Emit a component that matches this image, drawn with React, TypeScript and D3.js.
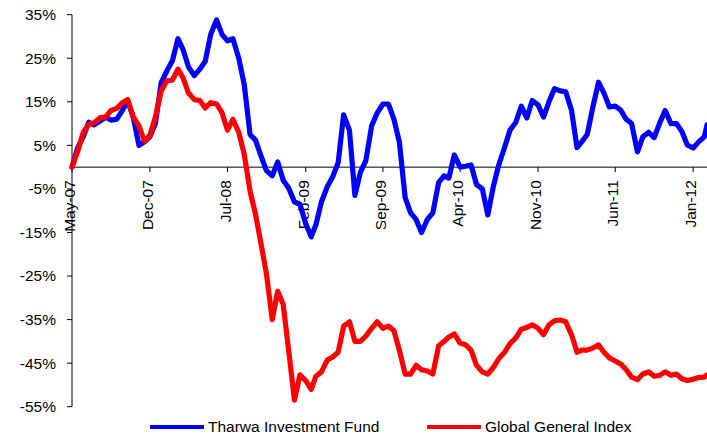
import * as d3 from "d3";
import React from "react";

// tick labels on the date axis (every 7 months)
const tickLabels = ["May-07", "Dec-07", "Jul-08", "Feb-09", "Sep-09", "Apr-10", "Nov-10", "Jun-11", "Jan-12"];
const yTicks = [35, 25, 15, 5, -5, -15, -25, -35, -45, -55];

// cumulative return, %, sampled on the 1st and 16th of each month from May 2007
const fundValues = [
  0, 4.3, 7, 10.3, 9.7, 10.5, 11.5, 10.8, 11, 13,
  15.2, 11.5, 5, 5.8, 7, 10, 19.4, 22, 24.5, 29.5,
  27, 23, 21, 22.5, 24.3, 30.5, 33.8, 30.5, 29, 29.5,
  25, 19, 7.5, 6.2, 2.6, -0.8, -2, 1.2, -3, -4.8,
  -8, -8.5, -13, -16, -13.2, -8, -4.5, -2.2, 1, 12,
  8.5, -6.5, -1.2, 1.5, 9.5, 12.4, 14.5, 14.5, 11, 5.8,
  -7, -10.5, -12, -15, -12, -10.5, -3.5, -2, -2.5, 2.8,
  0, 0.2, 0.5, -4, -5, -11, -4.5, 0.5, 4.5, 8.5,
  10.3, 14, 11.3, 15.3, 14.3, 11.5, 15, 18, 17.5, 17.3,
  13, 4.5, 5.8, 7.5, 14, 19.5, 17, 13.8, 14, 13.1,
  11, 10, 3.5, 7, 8, 6.8, 10.1, 13, 10, 10,
  8.2, 5.1, 4.4, 5.8, 7, 9.7,
];

const indexValues = [
  0, 3.5, 8, 9.8, 10.2, 11.3, 11.5, 13, 13.5, 14.8,
  15.5, 11.5, 9.5, 6, 7.3, 11.5, 17.5, 19.8, 20, 22.5,
  20.5, 17, 15.5, 15.3, 13.6, 14.8, 14.5, 12.5, 8.5, 11,
  8, 3, -5.5, -10.8, -17.5, -24.5, -35, -28.5, -31.5, -42,
  -53.5, -47.7, -49, -51, -48, -47, -44.3, -43.6, -42.5, -36.5,
  -35.5, -40, -40, -38.8, -37, -35.5, -37, -36.5, -37.5, -42,
  -47.5, -47.5, -45.5, -46.5, -46.8, -47.5, -41, -40, -39, -38.3,
  -40.4, -40.8, -42, -45.5, -47, -47.5, -46, -44, -42.5, -40.5,
  -39.2, -37.2, -36.8, -36.2, -37, -38.5, -36.2, -35.3, -35.1, -35.5,
  -38.5, -42.5, -42, -42, -41.5, -40.8, -42.5, -43.8, -44.5, -45.2,
  -46.5, -48.2, -48.8, -47.5, -47, -48, -47.8, -47, -47.8, -47.5,
  -48.6, -49, -48.7, -48.3, -48.2, -47.7,
];

const seriesNames = ["Tharwa Investment Fund", "Global General Index"];
const seriesColors = ["#0000ff", "#ff0000"];

const months = d3.timeMonth.range(new Date(2007, 4, 1), new Date(2012, 1, 1));
const dates: Date[] = months.flatMap((m) => [m, d3.timeDay.offset(m, 15)]);
dates.push(new Date(2012, 1, 1), new Date(2012, 1, 8));

const parseTick = d3.timeParse("%b-%y");
const tickDates = tickLabels.map((t) => parseTick(t) as Date);

const W = 707;
const H = 436;
const FONT = "'Liberation Sans', Arial, sans-serif";

export default function App() {
  const x = d3.scaleTime().domain([new Date(2007, 4, 1), new Date(2012, 1, 8)]).range([72, 707]);
  const y = d3.scaleLinear().domain([-55, 35]).range([406.7, 14.7]);
  const y0 = y(0);

  const line = d3
    .line<number>()
    .x((_, i) => x(dates[i]))
    .y((d) => y(d));

  const series = [fundValues, indexValues];

  return (
    <div style={{ position: "absolute", left: 0, top: 0 }}>
      <svg width={W} height={H} style={{ display: "block", background: "#fff" }} fontFamily={FONT}>
        {/* y axis */}
        <line x1={72} x2={72} y1={y(35)} y2={y(-55)} stroke="#000" strokeWidth={1} />
        {yTicks.map((t) => (
          <g key={t} transform={`translate(72,${y(t)})`}>
            <line x1={-5} x2={0} stroke="#000" />
            <text x={-16} dy="0.35em" textAnchor="end" fontSize={15.5} fill="#000">
              {t}%
            </text>
          </g>
        ))}
        {/* x axis at zero */}
        <line x1={72} x2={W} y1={y0} y2={y0} stroke="#000" strokeWidth={1} />
        {tickDates.map((d, i) => (
          <g key={tickLabels[i]} transform={`translate(${x(d)},${y0})`}>
            <line y1={0} y2={5} stroke="#000" />
            <text
              transform="translate(0,13) rotate(-90)"
              dy="0.2em"
              textAnchor="end"
              fontSize={15.5}
              fill="#000"
            >
              {tickLabels[i]}
            </text>
          </g>
        ))}
        {/* series */}
        {series.map((s, i) => (
          <path
            key={seriesNames[i]}
            d={line(s) ?? ""}
            fill="none"
            stroke={seriesColors[i]}
            strokeWidth={5.2}
            strokeLinejoin="round"
            strokeLinecap="round"
          />
        ))}
        {/* legend */}
        {seriesNames.map((name, i) => {
          const lx = i === 0 ? 150 : 427;
          return (
            <g key={name} transform={`translate(${lx},427)`}>
              <line x1={0} x2={54} stroke={seriesColors[i]} strokeWidth={4} />
              <text x={58} dy="0.35em" fontSize={15.5} fill="#000">
                {name}
              </text>
            </g>
          );
        })}
      </svg>
    </div>
  );
}
